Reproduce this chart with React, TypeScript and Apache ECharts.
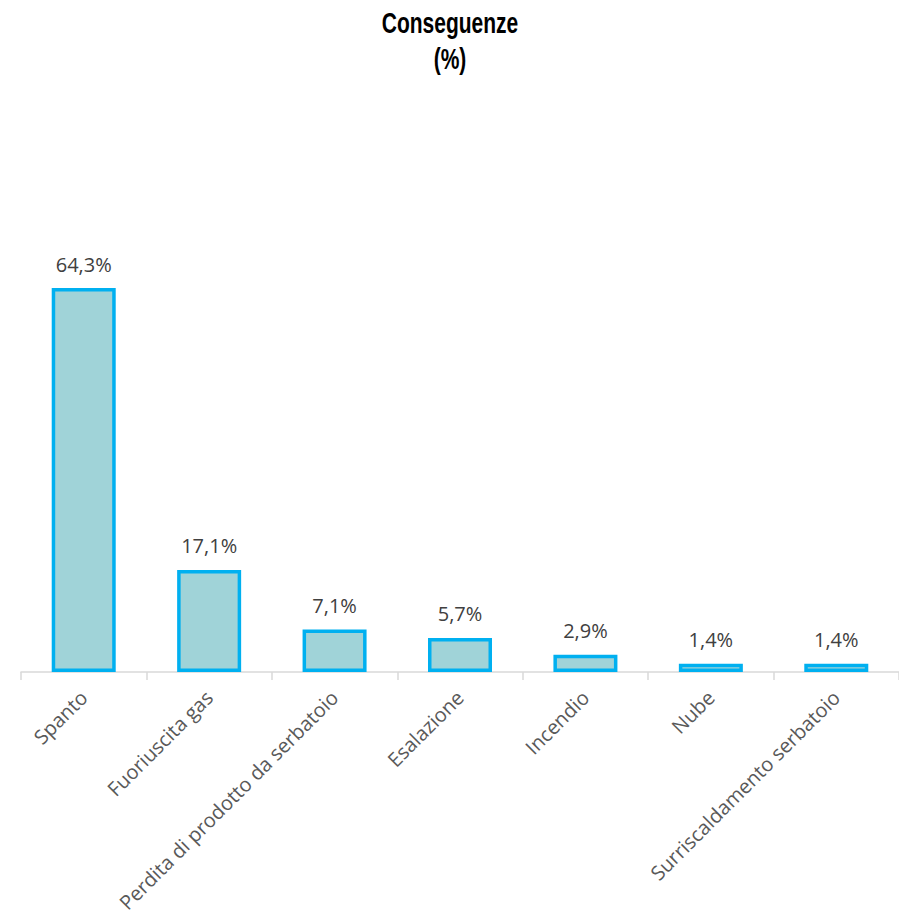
import React, { useEffect, useRef } from "react";
import * as echarts from "echarts";

const categories = [
  "Spanto",
  "Fuoriuscita gas",
  "Perdita di prodotto da serbatoio",
  "Esalazione",
  "Incendio",
  "Nube",
  "Surriscaldamento serbatoio",
];
const values = [64.3, 17.1, 7.1, 5.7, 2.9, 1.4, 1.4];
const titleLines = ["Conseguenze", "(%)"];

export default function App() {
  const ref = useRef<HTMLDivElement>(null);
  useEffect(() => {
    if (!ref.current) return;
    const chart = echarts.init(ref.current, null, { renderer: "svg" });
    chart.setOption({
      animation: false,
      backgroundColor: "#ffffff",
      graphic: titleLines.map((t, i) => ({
        type: "text",
        x: 450,
        y: 38 + i * 36,
        scaleX: 0.7,
        style: {
          text: t,
          fontFamily: "Liberation Sans",
          fontWeight: "bold",
          fontSize: 30,
          fill: "#000000",
          textAlign: "center",
          verticalAlign: "bottom",
        },
      })),
      grid: { left: 21, top: 254, width: 882, height: 418, containLabel: false },
      xAxis: {
        type: "category",
        data: categories,
        axisLine: { show: true, lineStyle: { color: "#D9D9D9", width: 1.5 } },
        axisTick: { show: true, length: 8, alignWithLabel: false, lineStyle: { color: "#D9D9D9", width: 1.5 } },
        axisLabel: {
          rotate: 45,
          interval: 0,
          margin: 22,
          fontFamily: "Open Sans",
          fontSize: 20,
          color: "#595959",
        },
      },
      yAxis: {
        type: "value",
        min: 0,
        max: 70,
        show: false,
        splitLine: { show: false },
      },
      series: [
        {
          type: "bar",
          data: values,
          barWidth: 64,
          itemStyle: { color: "#A0D3D8", borderColor: "#00B0F0", borderWidth: 3.5 },
          label: {
            show: true,
            position: "top",
            distance: 14,
            fontFamily: "Open Sans",
            fontSize: 20,
            color: "#404040",
            formatter: (p: any) => p.value.toFixed(1).replace(".", ",") + "%",
          },
        },
      ],
    });
    return () => chart.dispose();
  }, []);
  return (
    <div
      ref={ref}
      style={{ position: "absolute", left: 0, top: 0, width: 899, height: 923, overflow: "hidden" }}
    />
  );
}
